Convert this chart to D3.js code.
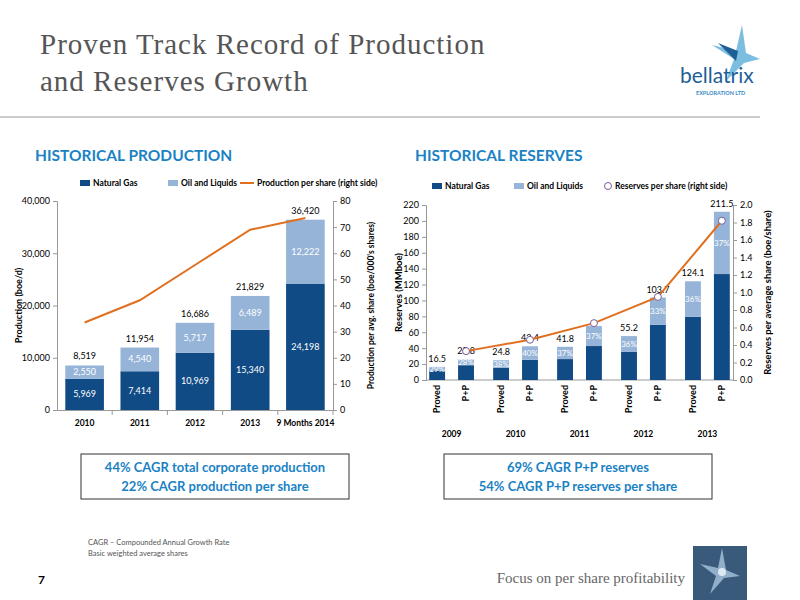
<!DOCTYPE html>
<html>
<head>
<meta charset="UTF-8">
<title>Proven Track Record</title>
<script src="https://cdn.jsdelivr.net/npm/d3@7"></script>
<style>
body { margin: 0; background: #fff; }
svg text { font-family: Lato, "Liberation Sans", sans-serif; }
</style>
</head>
<body>
<svg id="slide" width="800" height="600"></svg>
<script>
// production chart data
var prodYears = ["2010", "2011", "2012", "2013", "9 Months 2014"];
var prodGas = [5969, 7414, 10969, 15340, 24198];
var prodOil = [2550, 4540, 5717, 6489, 12222];
var prodTotal = [8519, 11954, 16686, 21829, 36420];
var prodPerShare = [33.5, 42, 55.5, 69, 73.5];

// reserves chart data
var resYears = ["2009", "2010", "2011", "2012", "2013"];
var resTypes = ["Proved", "P+P"];
var resTotal = [[16.5, 25.8], [24.8, 42.4], [41.8, 67.8], [55.2, 103.7], [124.1, 211.5]];
var resGas = [[11.7, 18.6], [15.4, 25.4], [26.3, 42.7], [35.3, 69.5], [79.4, 133.2]];
var resPct = [["29%", "28%"], ["38%", "40%"], ["37%", "37%"], ["36%", "33%"], ["36%", "37%"]];
var resTotalLabel = [["16.5", "25.8"], ["24.8", "42.4"], ["41.8", ""], ["55.2", "103.7"], ["124.1", "211.5"]];
var resPerShare = [0.33, 0.46, 0.65, 0.95, 1.82];

var dark = "#114b85", light = "#95b4d8", orange = "#e07020", headBlue = "#1a82c4";
var svg = d3.select("#slide");

// title
svg.append("text").attr("x", 40).attr("y", 54).style("font-family", "Liberation Serif, serif")
    .attr("font-size", 29).attr("letter-spacing", 1).attr("fill", "#555").text("Proven Track Record of Production");
svg.append("text").attr("x", 40).attr("y", 91).style("font-family", "Liberation Serif, serif")
    .attr("font-size", 29).attr("letter-spacing", 1).attr("fill", "#555").text("and Reserves Growth");
svg.append("line").attr("x1", 0).attr("x2", 760).attr("y1", 117).attr("y2", 117).attr("stroke", "#bbb").attr("stroke-width", 1.5);

// logo
var logo = svg.append("g").attr("transform", "translate(742,55)");
logo.append("path").attr("d", "M0,-30 L-6,-4 L-30,-10 L-8,4 L-16,26 L2,8 L18,4 L4,-2 Z").attr("fill", "#5aaed8").attr("opacity", 0.8);
logo.append("path").attr("d", "M-4,-4 L-24,-12 L-6,6 Z").attr("fill", "#1e5f97");
logo.append("text").attr("x", -62).attr("y", 28).attr("font-size", 21).attr("fill", "#1e5f97").text("bellatrix");
logo.append("text").attr("x", -46).attr("y", 40).attr("font-size", 5.5).attr("font-weight", "bold").attr("fill", "#3a8cc8").text("EXPLORATION LTD");

// section headings
svg.append("text").attr("x", 35).attr("y", 161).attr("font-size", 15.5).attr("font-weight", "bold").attr("fill", headBlue).text("HISTORICAL PRODUCTION");
svg.append("text").attr("x", 415).attr("y", 161).attr("font-size", 15.5).attr("font-weight", "bold").attr("fill", headBlue).text("HISTORICAL RESERVES");

function styleAxis(g) {
    g.selectAll("text").attr("font-size", 9).attr("fill", "#000");
    g.selectAll("line,path").attr("stroke", "#999");
}

// ---------- production chart ----------
var pL = 57, pR = 333, pT = 201, pB = 410;
var px = d3.scaleBand().domain(prodYears).range([pL, pR]).paddingInner(0.3).paddingOuter(0.15);
var py = d3.scaleLinear().domain([0, 40000]).range([pB, pT]);
var py2 = d3.scaleLinear().domain([0, 80]).range([pB, pT]);

svg.append("g").attr("transform", "translate(" + pL + ",0)")
    .call(d3.axisLeft(py).tickValues([0, 10000, 20000, 30000, 40000]).tickFormat(d3.format(",")).tickSize(4))
    .call(styleAxis);
svg.append("g").attr("transform", "translate(" + pR + ",0)")
    .call(d3.axisRight(py2).ticks(8).tickSize(4)).call(styleAxis);
var pxa = svg.append("g").attr("transform", "translate(0," + pB + ")")
    .call(d3.axisBottom(px).tickSize(0).tickPadding(10)).call(styleAxis);
pxa.selectAll("text").attr("font-size", 8.5).attr("font-weight", "bold");
pxa.selectAll(".tick").append("line").attr("x1", px.step() / 2).attr("x2", px.step() / 2).attr("y2", 5).attr("stroke", "#999");

prodYears.forEach(function (y, i) {
    var x = px(y), w = px.bandwidth();
    svg.append("rect").attr("x", x).attr("width", w).attr("y", py(prodGas[i])).attr("height", pB - py(prodGas[i])).attr("fill", dark);
    svg.append("rect").attr("x", x).attr("width", w).attr("y", py(prodTotal[i])).attr("height", py(prodGas[i]) - py(prodTotal[i])).attr("fill", light);
    svg.append("text").attr("x", x + w / 2).attr("y", py(prodGas[i] / 2) + 3).attr("text-anchor", "middle").attr("font-size", 9).attr("fill", "#fff").text(d3.format(",")(prodGas[i]));
    svg.append("text").attr("x", x + w / 2).attr("y", py(prodGas[i] + prodOil[i] / 2) + 3).attr("text-anchor", "middle").attr("font-size", 9).attr("fill", "#fff").text(d3.format(",")(prodOil[i]));
    svg.append("text").attr("x", x + w / 2).attr("y", py(prodTotal[i]) - 6).attr("text-anchor", "middle").attr("font-size", 9).attr("fill", "#000").text(d3.format(",")(prodTotal[i]));
});
svg.append("path").datum(prodPerShare).attr("fill", "none").attr("stroke", orange).attr("stroke-width", 2)
    .attr("d", d3.line().x(function (d, i) { return px(prodYears[i]) + px.bandwidth() / 2; }).y(function (d) { return py2(d); }));

svg.append("text").attr("transform", "translate(22," + (pT + pB) / 2 + ") rotate(-90)").attr("text-anchor", "middle").attr("font-size", 9).attr("font-weight", "bold").text("Production (boe/d)");
svg.append("text").attr("transform", "translate(374," + (pT + pB) / 2 + ") rotate(-90)").attr("text-anchor", "middle").attr("font-size", 8.5).attr("font-weight", "bold").text("Production per avg. share (boe/000's shares)");

// legend
var lg1 = svg.append("g").attr("transform", "translate(80,186)");
lg1.append("rect").attr("width", 10).attr("height", 6).attr("y", -6).attr("fill", dark);
lg1.append("text").attr("x", 13).attr("font-size", 8.5).attr("font-weight", "bold").text("Natural Gas");
lg1.append("rect").attr("x", 88).attr("width", 10).attr("height", 6).attr("y", -6).attr("fill", light);
lg1.append("text").attr("x", 101).attr("font-size", 8.5).attr("font-weight", "bold").text("Oil and Liquids");
lg1.append("line").attr("x1", 160).attr("x2", 174).attr("y1", -3).attr("y2", -3).attr("stroke", orange).attr("stroke-width", 2);
lg1.append("text").attr("x", 177).attr("font-size", 8.5).attr("font-weight", "bold").text("Production per share (right side)");

// ---------- reserves chart ----------
var rL = 426, rR = 733, rT = 205, rB = 380;
var rx = d3.scaleBand().domain(resYears).range([rL, rR]).paddingInner(0.3).paddingOuter(0.05);
var rxi = d3.scaleBand().domain(resTypes).range([0, rx.bandwidth()]).paddingInner(0.45);
var ry = d3.scaleLinear().domain([0, 220]).range([rB, rT]);
var ry2 = d3.scaleLinear().domain([0, 2]).range([rB, rT]);

svg.append("g").attr("transform", "translate(" + rL + ",0)")
    .call(d3.axisLeft(ry).tickValues(d3.range(0, 221, 20)).tickSize(4)).call(styleAxis);
svg.append("g").attr("transform", "translate(" + rR + ",0)")
    .call(d3.axisRight(ry2).tickValues(d3.range(0, 2.01, 0.2)).tickFormat(d3.format(".1f")).tickSize(4)).call(styleAxis);
svg.append("line").attr("x1", rL).attr("x2", rR).attr("y1", rB).attr("y2", rB).attr("stroke", "#999");

resYears.forEach(function (y, i) {
    resTypes.forEach(function (t, j) {
        var x = rx(y) + rxi(t), w = rxi.bandwidth();
        var tot = resTotal[i][j], gas = resGas[i][j];
        svg.append("rect").attr("x", x).attr("width", w).attr("y", ry(gas)).attr("height", rB - ry(gas)).attr("fill", dark);
        svg.append("rect").attr("x", x).attr("width", w).attr("y", ry(tot)).attr("height", ry(gas) - ry(tot)).attr("fill", light);
        svg.append("text").attr("x", x + w / 2).attr("y", ry((gas + tot) / 2) + 3).attr("text-anchor", "middle").attr("font-size", 8).attr("fill", "#fff").text(resPct[i][j]);
        svg.append("text").attr("x", x + w / 2).attr("y", ry(tot) - 5).attr("text-anchor", "middle").attr("font-size", 9).text(resTotalLabel[i][j]);
        svg.append("text").attr("transform", "translate(" + (x + w / 2 + 3) + "," + (rB + 5) + ") rotate(-90)")
            .attr("text-anchor", "end").attr("font-size", 9).attr("font-weight", "bold").text(t);
    });
    svg.append("text").attr("x", rx(y) + rx.bandwidth() / 2).attr("y", 437).attr("text-anchor", "middle").attr("font-size", 8.5).attr("font-weight", "bold").text(y);
});
var rLineX = function (d, i) { return rx(resYears[i]) + rxi("P+P") + rxi.bandwidth() / 2; };
svg.append("path").datum(resPerShare).attr("fill", "none").attr("stroke", orange).attr("stroke-width", 2)
    .attr("d", d3.line().x(rLineX).y(function (d) { return ry2(d); }));
svg.selectAll("circle.rps").data(resPerShare).enter().append("circle")
    .attr("cx", rLineX).attr("cy", function (d) { return ry2(d); }).attr("r", 3.5)
    .attr("fill", "#fff").attr("stroke", "#7a5a9a").attr("stroke-width", 1);

svg.append("text").attr("transform", "translate(402," + (rT + rB) / 2 + ") rotate(-90)").attr("text-anchor", "middle").attr("font-size", 9.5).attr("font-weight", "bold").text("Reserves (MMboe)");
svg.append("text").attr("transform", "translate(771," + (rT + rB) / 2 + ") rotate(-90)").attr("text-anchor", "middle").attr("font-size", 9.5).attr("font-weight", "bold").text("Reserves per average share (boe/share)");

var lg2 = svg.append("g").attr("transform", "translate(432,189)");
lg2.append("rect").attr("width", 10).attr("height", 6).attr("y", -6).attr("fill", dark);
lg2.append("text").attr("x", 13).attr("font-size", 8.5).attr("font-weight", "bold").text("Natural Gas");
lg2.append("rect").attr("x", 82).attr("width", 10).attr("height", 6).attr("y", -6).attr("fill", light);
lg2.append("text").attr("x", 95).attr("font-size", 8.5).attr("font-weight", "bold").text("Oil and Liquids");
lg2.append("circle").attr("cx", 176).attr("cy", -3).attr("r", 3.5).attr("fill", "#fff").attr("stroke", "#7a5a9a");
lg2.append("text").attr("x", 183).attr("font-size", 8.5).attr("font-weight", "bold").text("Reserves per share (right side)");

// CAGR boxes
function box(x, lines) {
    svg.append("rect").attr("x", x).attr("y", 454).attr("width", 268).attr("height", 45).attr("fill", "#fff").attr("stroke", "#333");
    lines.forEach(function (l, k) {
        svg.append("text").attr("x", x + 134).attr("y", 472 + k * 19).attr("text-anchor", "middle")
            .attr("font-size", 13).attr("font-weight", "bold").attr("fill", headBlue).text(l);
    });
}
box(81, ["44% CAGR total corporate production", "22% CAGR production per share"]);
box(444, ["69% CAGR P+P reserves", "54% CAGR P+P reserves per share"]);

// footer
svg.append("text").attr("x", 88).attr("y", 545).attr("font-size", 7.5).attr("fill", "#555").text("CAGR – Compounded Annual Growth Rate");
svg.append("text").attr("x", 88).attr("y", 556).attr("font-size", 7.5).attr("fill", "#555").text("Basic weighted average shares");
svg.append("text").attr("x", 38).attr("y", 584).attr("font-size", 12).attr("font-weight", "bold").text("7");
svg.append("text").attr("x", 685).attr("y", 583).attr("text-anchor", "end").style("font-family", "Liberation Serif, serif").attr("font-size", 15).attr("fill", "#666").text("Focus on per share profitability");
svg.append("rect").attr("x", 693).attr("y", 546).attr("width", 54).attr("height", 54).attr("fill", "#3a5a7c");
svg.append("path").attr("transform", "translate(722,572)").attr("d", "M0,-24 L-4,-4 L-22,-8 L-6,4 L-12,22 L2,6 L18,4 L4,-2 Z").attr("fill", "#a8c4dc").attr("opacity", 0.8);
svg.append("circle").attr("cx", 722).attr("cy", 572).attr("r", 4).attr("fill", "#dde8f2");
</script>
</body>
</html>
